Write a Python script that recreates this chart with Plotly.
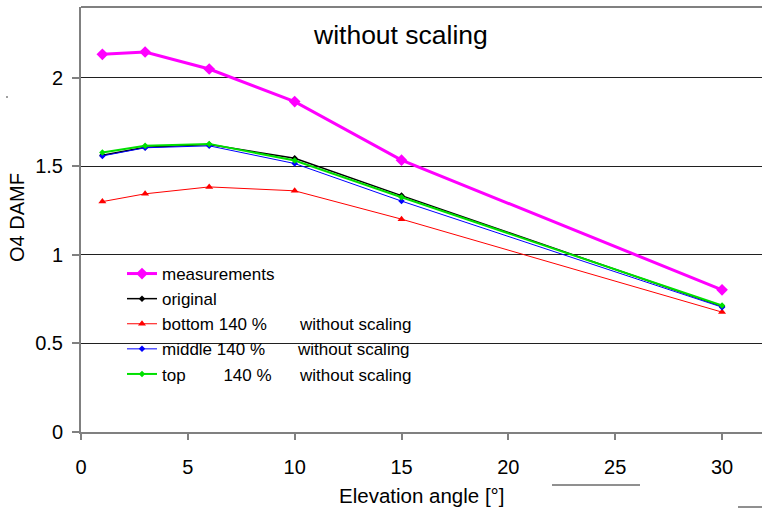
import plotly.graph_objects as go

# Elevation angles [deg]
elevation = [1, 3, 6, 10, 15, 30]

# O4 differential air mass factors
measurements = [2.133, 2.146, 2.050, 1.866, 1.535, 0.803]
original = [1.563, 1.608, 1.623, 1.546, 1.335, 0.710]
bottom_140 = [1.301, 1.345, 1.384, 1.362, 1.202, 0.677]
middle_140 = [1.559, 1.605, 1.616, 1.516, 1.304, 0.705]
top_140 = [1.578, 1.617, 1.627, 1.533, 1.326, 0.714]

NB = "\u00a0"
names = [
    "measurements",
    "original",
    "bottom 140 %" + NB * 7 + "without scaling",
    "middle 140 %" + NB * 7 + "without scaling",
    "top" + NB * 8 + "140 %" + NB * 6 + "without scaling",
]
series = [measurements, original, bottom_140, middle_140, top_140]
colors = ["#FF00FF", "#000000", "#FF0000", "#0000FF", "#00E000"]
widths = [3, 1.5, 1, 1, 2]
symbols = ["diamond", "diamond", "triangle-up", "diamond", "diamond"]
sizes = [9, 5, 7, 5, 5]

FONT = "Liberation Sans, Arial, sans-serif"

fig = go.Figure()
for name, ys, c, w, s, sz in zip(names, series, colors, widths, symbols, sizes):
    fig.add_trace(go.Scatter(
        x=elevation, y=ys, name=name, mode="lines+markers",
        line=dict(color=c, width=w),
        marker=dict(symbol=s, size=sz, color=c, line=dict(width=0)),
    ))

L, T, B = 81, 7, 80
W, H = 762, 512
pw, ph = W - L, H - T - B

def px(x):
    return (x - L) / pw

def py(y):
    return (H - B - y) / ph

fig.update_layout(
    width=W, height=H,
    margin=dict(l=L, r=0, t=T, b=B, pad=0),
    paper_bgcolor="white", plot_bgcolor="white",
    font=dict(family=FONT, size=20, color="#000000"),
    showlegend=True,
    legend=dict(
        x=px(122), y=py(256), xanchor="left", yanchor="top",
        bgcolor="rgba(0,0,0,0)", borderwidth=0,
        font=dict(family=FONT, size=17, color="#000000"),
        tracegroupgap=0, itemwidth=30,
    ),
    xaxis=dict(
        range=[0, 31.87], tickvals=[0, 5, 10, 15, 20, 25, 30],
        showgrid=False, zeroline=False,
        showline=True, linecolor="#808080", linewidth=2,
        ticks="outside", ticklen=6, tickcolor="#808080", tickwidth=1.5,
        ticklabelstandoff=10,
        tickfont=dict(family=FONT, size=20, color="#000000"),
    ),
    yaxis=dict(
        range=[0, 2.4], tickvals=[0, 0.5, 1, 1.5, 2],
        ticktext=["0", "0.5", "1", "1.5", "2"],
        showgrid=True, gridcolor="#202020", gridwidth=1,
        zeroline=False,
        showline=True, linecolor="#808080", linewidth=2,
        ticks="outside", ticklen=7, tickcolor="#808080", tickwidth=1.5,
        ticklabelstandoff=5,
        tickfont=dict(family=FONT, size=20, color="#000000"),
    ),
    annotations=[
        dict(text="without scaling", x=px(400), y=py(35), xref="paper", yref="paper",
             showarrow=False, xanchor="center", yanchor="middle",
             font=dict(family=FONT, size=26.5, color="#000000")),
        dict(text="O4 DAMF", x=px(17), y=py(218), xref="paper", yref="paper",
             showarrow=False, xanchor="center", yanchor="middle", textangle=-90,
             font=dict(family=FONT, size=20, color="#000000")),
        dict(text="Elevation angle [°]", x=px(421), y=py(495), xref="paper", yref="paper",
             showarrow=False, xanchor="center", yanchor="middle",
             font=dict(family=FONT, size=20.5, color="#000000")),
    ],
    shapes=[
        # white panel behind the legend, hiding the grid there
        dict(type="rect", xref="paper", yref="paper",
             x0=px(123), x1=px(473), y0=py(385), y1=py(262),
             fillcolor="white", line=dict(width=0), layer="between"),
        # top frame line of the plot area
        dict(type="line", xref="paper", yref="paper", x0=0, x1=1, y0=1, y1=1,
             line=dict(color="#808080", width=2)),
        # stray strokes
        dict(type="line", xref="paper", yref="paper",
             x0=px(552), x1=px(640), y0=py(485), y1=py(485),
             line=dict(color="#202020", width=1)),
        dict(type="line", xref="paper", yref="paper",
             x0=px(738), x1=px(762), y0=py(507), y1=py(507),
             line=dict(color="#202020", width=1)),
        dict(type="line", xref="paper", yref="paper",
             x0=px(6), x1=px(8), y0=py(97), y1=py(97),
             line=dict(color="#404040", width=1)),
    ],
)

fig.write_html("out.html")
